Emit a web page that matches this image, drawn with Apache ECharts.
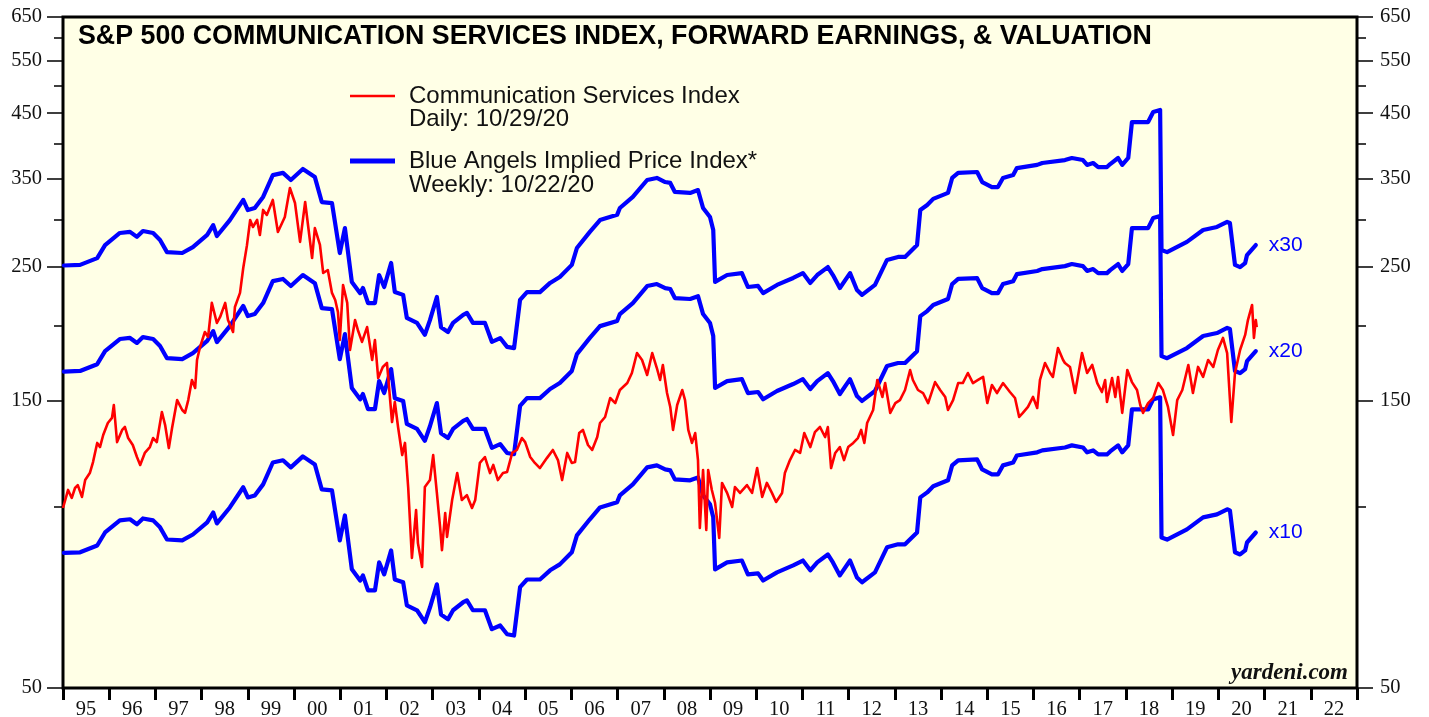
<!DOCTYPE html>
<html><head><meta charset="utf-8">
<script src="https://cdn.jsdelivr.net/npm/echarts@6/dist/echarts.min.js"></script>
<style>html,body{margin:0;padding:0;background:#fff}#c{width:1429px;height:717px}</style>
</head><body><div id="c"></div>
<script>
// ---- data ----
const yearLabels = ['95','96','97','98','99','00','01','02','03','04','05','06','07','08','09','10','11','12','13','14','15','16','17','18','19','20','21','22'];
const yTickLabels = [50,150,250,350,450,550,650];
const yMinorTicks = [100,200,300,400,500,600];
const peMultiples = [10,20,30];

// Communication Services Index (daily, sampled) : decimal year / index level
const indexDates = [1995.00,1995.11,1995.19,1995.26,1995.32,1995.41,1995.48,1995.58,1995.65,1995.74,1995.80,1995.87,1995.97,1996.06,1996.10,1996.17,1996.28,1996.34,1996.41,1996.51,1996.60,1996.67,1996.77,1996.88,1996.95,1997.03,1997.14,1997.21,1997.29,1997.36,1997.47,1997.58,1997.64,1997.71,1997.79,1997.86,1997.90,1997.96,1998.07,1998.14,1998.22,1998.33,1998.40,1998.51,1998.57,1998.68,1998.72,1998.83,1998.90,1998.98,1999.05,1999.11,1999.20,1999.26,1999.33,1999.41,1999.54,1999.65,1999.80,1999.91,2000.02,2000.13,2000.24,2000.39,2000.45,2000.56,2000.63,2000.73,2000.82,2000.89,2000.95,2000.99,2001.06,2001.15,2001.21,2001.32,2001.38,2001.47,2001.58,2001.69,2001.75,2001.82,2001.92,2002.01,2002.12,2002.18,2002.25,2002.34,2002.40,2002.47,2002.55,2002.64,2002.68,2002.77,2002.83,2002.94,2003.01,2003.09,2003.16,2003.20,2003.27,2003.31,2003.42,2003.53,2003.63,2003.74,2003.85,2003.92,2004.02,2004.13,2004.24,2004.31,2004.41,2004.52,2004.61,2004.72,2004.82,2004.93,2005.00,2005.11,2005.21,2005.32,2005.47,2005.60,2005.71,2005.80,2005.91,2006.01,2006.08,2006.17,2006.25,2006.36,2006.45,2006.56,2006.62,2006.73,2006.84,2006.95,2007.05,2007.21,2007.31,2007.42,2007.53,2007.64,2007.75,2007.85,2007.92,2007.98,2008.07,2008.14,2008.20,2008.29,2008.40,2008.46,2008.53,2008.61,2008.68,2008.74,2008.78,2008.85,2008.92,2008.96,2009.04,2009.11,2009.20,2009.26,2009.37,2009.48,2009.54,2009.65,2009.80,2009.91,2010.02,2010.13,2010.23,2010.34,2010.43,2010.56,2010.62,2010.73,2010.84,2010.95,2011.04,2011.17,2011.27,2011.38,2011.49,2011.55,2011.62,2011.71,2011.81,2011.90,2011.99,2012.10,2012.20,2012.27,2012.34,2012.40,2012.53,2012.62,2012.73,2012.79,2012.90,2013.01,2013.11,2013.22,2013.33,2013.39,2013.50,2013.61,2013.72,2013.87,2013.98,2014.09,2014.15,2014.26,2014.37,2014.47,2014.58,2014.69,2014.80,2014.91,2015.00,2015.10,2015.21,2015.34,2015.49,2015.60,2015.69,2015.77,2015.88,2015.99,2016.08,2016.14,2016.25,2016.36,2016.42,2016.53,2016.64,2016.68,2016.79,2016.90,2017.05,2017.16,2017.27,2017.38,2017.48,2017.55,2017.59,2017.70,2017.77,2017.83,2017.92,2018.03,2018.13,2018.24,2018.31,2018.37,2018.48,2018.59,2018.70,2018.80,2018.91,2019.02,2019.11,2019.22,2019.35,2019.45,2019.56,2019.67,2019.78,2019.89,2019.99,2020.10,2020.19,2020.28,2020.36,2020.47,2020.58,2020.64,2020.73,2020.77,2020.81,2020.83];
const indexValues = [99.5,106.6,103.4,107.4,108.6,103.8,110.7,113.7,118.6,127.6,125.6,131.5,137.7,140.4,147.5,128.0,134.1,135.6,130.0,126.6,120.9,117.3,122.8,125.6,130.0,128.0,143.6,136.6,125.1,135.1,150.3,144.7,143.1,150.3,162.3,157.4,175.2,183.4,195.0,191.3,217.9,201.8,206.5,217.9,204.1,195.0,214.5,226.4,249.0,271.5,299.2,291.3,299.2,282.5,310.9,305.0,323.0,285.8,302.7,338.1,319.3,275.1,320.5,258.7,290.1,271.9,244.3,247.1,226.4,220.3,210.2,189.1,233.4,217.9,182.0,204.1,196.5,187.7,198.7,175.2,189.1,163.5,170.6,173.2,138.2,149.2,135.6,121.8,127.6,107.4,82.2,98.7,87.0,79.4,107.8,110.7,121.8,105.4,92.5,84.7,97.6,89.1,102.6,113.7,102.6,104.5,99.5,102.6,118.2,120.9,113.7,117.3,110.7,113.7,114.2,122.8,124.2,130.0,128.0,120.9,118.2,115.9,120.4,124.2,119.5,110.7,122.8,118.2,118.6,132.5,134.1,126.6,124.2,130.5,137.7,140.9,151.5,148.6,156.2,160.4,166.7,179.9,175.2,165.4,179.9,169.9,162.3,171.9,154.4,146.4,134.1,147.5,156.2,150.3,134.1,127.6,132.5,119.5,92.2,115.0,91.5,115.0,106.6,101.4,88.7,109.5,105.4,99.9,107.8,105.4,108.6,105.4,115.9,103.8,109.5,105.4,101.8,105.4,113.7,119.5,124.2,122.8,132.5,125.6,133.0,135.6,130.5,135.6,115.9,122.8,125.6,119.5,125.6,127.6,130.0,134.1,127.6,137.7,144.7,162.3,152.1,160.4,143.1,148.6,150.3,156.2,168.6,162.3,156.2,154.4,148.6,161.0,156.2,152.1,144.7,150.3,160.4,160.4,166.7,160.4,162.3,164.2,148.6,159.2,154.4,160.4,155.0,151.5,140.9,143.1,146.4,152.1,145.8,162.3,173.2,166.7,164.2,183.4,175.2,173.2,170.6,154.4,179.9,166.7,171.9,160.4,155.0,162.3,149.2,163.5,152.1,164.2,143.1,168.6,161.0,156.2,147.5,143.1,148.6,151.5,160.4,156.2,146.4,131.5,150.3,156.2,171.9,154.4,170.6,164.2,175.2,170.6,182.0,190.6,179.9,138.2,166.7,182.0,192.8,204.1,216.2,190.6,204.1,198.7];

// Forward earnings (weekly, sampled) : decimal year / forward EPS
const epsDates = [1995.02,1995.37,1995.74,1995.91,1996.23,1996.45,1996.60,1996.73,1996.95,1997.10,1997.25,1997.58,1997.81,1998.12,1998.25,1998.33,1998.61,1998.90,1999.00,1999.15,1999.33,1999.54,1999.76,1999.93,2000.19,2000.45,2000.60,2000.82,2000.99,2001.10,2001.25,2001.43,2001.49,2001.60,2001.75,2001.84,2001.95,2002.10,2002.18,2002.36,2002.44,2002.66,2002.83,2002.94,2003.09,2003.18,2003.33,2003.44,2003.66,2003.74,2003.87,2004.13,2004.28,2004.46,2004.61,2004.76,2004.89,2005.04,2005.32,2005.54,2005.75,2006.01,2006.12,2006.40,2006.62,2006.99,2007.05,2007.33,2007.64,2007.85,2008.03,2008.14,2008.24,2008.57,2008.74,2008.85,2009.00,2009.07,2009.11,2009.37,2009.69,2009.82,2010.04,2010.15,2010.45,2010.80,2011.01,2011.17,2011.32,2011.55,2011.66,2011.81,2012.03,2012.18,2012.29,2012.57,2012.83,2013.07,2013.22,2013.48,2013.55,2013.70,2013.83,2014.15,2014.24,2014.37,2014.78,2014.89,2015.10,2015.23,2015.34,2015.56,2015.64,2016.08,2016.19,2016.68,2016.83,2017.07,2017.16,2017.29,2017.40,2017.59,2017.66,2017.83,2017.92,2018.05,2018.13,2018.48,2018.59,2018.74,2018.77,2018.89,2019.32,2019.67,2019.97,2020.19,2020.25,2020.36,2020.47,2020.58,2020.62,2020.81];
const epsValues = [8.38,8.40,8.62,9.06,9.49,9.53,9.35,9.56,9.49,9.24,8.82,8.79,8.99,9.42,9.78,9.38,9.97,10.77,10.36,10.44,10.89,11.84,11.94,11.62,12.12,11.75,10.68,10.64,8.79,9.67,7.87,7.54,7.69,7.26,7.26,8.08,7.72,8.46,7.57,7.49,6.86,6.73,6.43,6.80,7.43,6.62,6.50,6.73,6.94,6.99,6.73,6.73,6.26,6.35,6.14,6.11,7.35,7.57,7.57,7.84,8.02,8.40,8.96,9.53,9.97,10.17,10.44,10.89,11.62,11.71,11.53,11.49,11.10,11.06,11.18,10.44,10.09,9.60,7.87,8.08,8.14,7.72,7.75,7.54,7.78,7.99,8.14,7.84,8.08,8.33,8.08,7.69,8.14,7.63,7.49,7.78,8.56,8.66,8.66,9.06,10.36,10.56,10.81,11.06,11.71,11.94,11.98,11.53,11.31,11.31,11.71,11.84,12.16,12.31,12.40,12.54,12.64,12.54,12.31,12.40,12.21,12.21,12.35,12.64,12.31,12.64,14.50,14.50,15.07,15.19,8.89,8.82,9.17,9.60,9.71,9.90,9.86,8.40,8.33,8.46,8.72,9.06];

// ---- chart ----
const RED = '#ff0000', BLUE = '#0000ff';
const RED_NAME = 'Communication Services Index';
const BLUE_NAME = 'Blue Angels Implied Price Index*';
const serif = '"Liberation Serif", "Times New Roman", serif';
const sans = '"Liberation Sans", Arial, sans-serif';

const chart = echarts.init(document.getElementById('c'), null, {renderer: 'canvas'});

const yBase = {type: 'log', min: 50, max: 650, splitLine: {show: false}, axisLine: {show: false}, minorTick: {show: false}};
function majorY(pos, margin) {
  return Object.assign({}, yBase, {
    position: pos,
    axisTick: {show: true, inside: false, length: 16, customValues: yTickLabels, lineStyle: {color: '#000', width: 1.5}},
    axisLabel: {show: true, customValues: yTickLabels, margin: margin, fontSize: 20.5, fontFamily: serif, color: '#111'}
  });
}
function minorY(pos) {
  return Object.assign({}, yBase, {
    position: pos,
    axisTick: {show: true, inside: false, length: 9, customValues: yMinorTicks, lineStyle: {color: '#000', width: 1.5}},
    axisLabel: {show: false}
  });
}

const blueSeries = peMultiples.map(function (m) {
  return {
    name: BLUE_NAME, type: 'line', xAxisIndex: 1, yAxisIndex: 0,
    data: epsDates.map(function (d, i) { return [d, epsValues[i] * m]; }),
    showSymbol: false, symbol: 'none', color: BLUE, z: 2,
    lineStyle: {color: BLUE, width: 4.2, cap: 'round', join: 'round'},
    endLabel: {show: true, formatter: 'x' + m, color: BLUE, fontSize: 21, fontFamily: sans, distance: 13},
    animation: false
  };
});

const redSeries = {
  name: RED_NAME, type: 'line', xAxisIndex: 1, yAxisIndex: 0,
  data: indexDates.map(function (d, i) { return [d, indexValues[i]]; }),
  showSymbol: false, symbol: 'none', color: RED, z: 3,
  lineStyle: {color: RED, width: 2.6, join: 'round'},
  animation: false
};

chart.setOption({
  animation: false,
  backgroundColor: '#ffffff',
  title: {
    text: 'S&P 500 COMMUNICATION SERVICES INDEX, FORWARD EARNINGS, & VALUATION',
    left: 78, top: 23, padding: 0,
    textStyle: {fontSize: 26.8, fontWeight: 'bold', fontFamily: sans, color: '#000'}
  },
  legend: [
    {data: [RED_NAME], left: 350, top: 84, padding: 0, orient: 'vertical', selectedMode: false,
     icon: 'rect', itemWidth: 45, itemHeight: 2.5,
     textStyle: {fontSize: 24, fontFamily: sans, color: '#111', padding: [0, 0, 0, 9]}},
    {data: [BLUE_NAME], left: 350, top: 149, padding: 0, orient: 'vertical', selectedMode: false,
     icon: 'rect', itemWidth: 45, itemHeight: 5,
     textStyle: {fontSize: 24, fontFamily: sans, color: '#111', padding: [0, 0, 0, 9]}}
  ],
  graphic: [
    {type: 'text', x: 409, y: 119, style: {text: 'Daily: 10/29/20', font: '24px ' + sans, fill: '#111', verticalAlign: 'middle'}},
    {type: 'text', x: 409, y: 185, style: {text: 'Weekly: 10/22/20', font: '24px ' + sans, fill: '#111', verticalAlign: 'middle'}},
    {type: 'text', x: 1348, y: 673, style: {text: 'yardeni.com', font: 'italic bold 23px ' + serif, fill: '#111', align: 'right', verticalAlign: 'middle'}}
  ],
  grid: {left: 63, right: 72, top: 17, bottom: 29, show: true, backgroundColor: '#ffffe6', borderColor: '#000', borderWidth: 3, containLabel: false, outerBoundsMode: 'none'},
  xAxis: [
    {type: 'category', data: yearLabels, boundaryGap: true, position: 'bottom',
     axisLine: {show: false},
     axisTick: {show: true, inside: false, length: 12, lineStyle: {color: '#000', width: 3}},
     axisLabel: {interval: 0, margin: 11, fontSize: 20.5, fontFamily: serif, color: '#111'},
     splitLine: {show: false}},
    {type: 'value', min: 1995, max: 2023, show: false, splitLine: {show: false}}
  ],
  yAxis: [majorY('left', 21), minorY('left'), majorY('right', 23), minorY('right')],
  series: blueSeries.concat([redSeries])
});
</script>
</body></html>
